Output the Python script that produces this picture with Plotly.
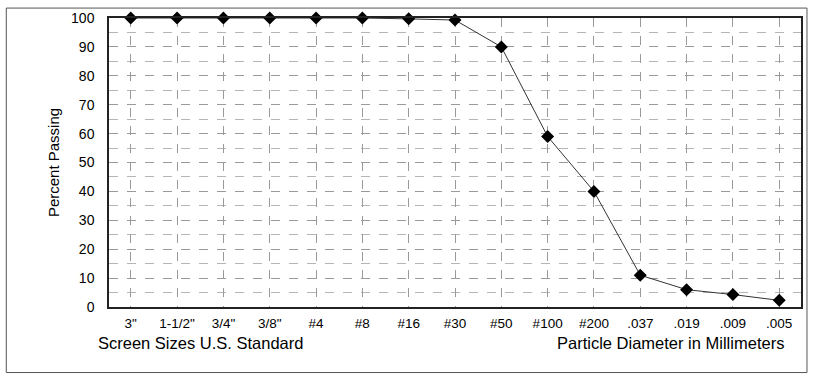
import plotly.graph_objects as go

sieves = ['3"', '1-1/2"', '3/4"', '3/8"', '#4', '#8', '#16', '#30', '#50',
          '#100', '#200', '.037', '.019', '.009', '.005']
percent_passing = [100, 100, 100, 100, 100, 100, 99.7, 99.3, 90, 59, 40, 11, 6, 4.3, 2.3]
y_ticks = list(range(0, 101, 10))

font = "Liberation Sans, Arial, sans-serif"
W, H = 813, 377
L, R, T, B = 109, 10, 16, 70
pw, ph = W - L - R, H - T - B

fig = go.Figure()
fig.add_trace(go.Scatter(
    x=list(range(len(sieves))), y=percent_passing, mode="lines+markers",
    line=dict(color="#333333", width=1),
    marker=dict(symbol="diamond", size=10, color="black"),
    showlegend=False, cliponaxis=False,
))

grid = "#9a9a9a"
fig.update_xaxes(
    range=[-0.47, len(sieves) - 1 + 0.47],
    tickmode="array", tickvals=list(range(len(sieves))), ticktext=sieves,
    showgrid=True, gridcolor=grid, griddash="dash", gridwidth=1,
    showline=True, linecolor="#222222", linewidth=1.5, mirror=True,
    ticks="", zeroline=False, ticklabelstandoff=3,
    tickfont=dict(family=font, size=13.5, color="black"),
)
fig.update_yaxes(
    range=[0, 100], tickvals=y_ticks,
    showgrid=True, gridcolor=grid, griddash="dash", gridwidth=1,
    minor=dict(dtick=5, showgrid=True, gridcolor="#b5b5b5", griddash="dash"),
    showline=True, linecolor="#222222", linewidth=1.5, mirror=True,
    ticks="", zeroline=False, ticklabelstandoff=10,
    tickfont=dict(family=font, size=14, color="black"),
    title=dict(text="Percent Passing", font=dict(family=font, size=15, color="black"), standoff=8),
)

def px_x(p):
    return (p - L) / pw

def px_y(p):
    return (H - B - p) / ph

fig.add_shape(type="rect", xref="paper", yref="paper",
              x0=px_x(6), x1=px_x(809), y0=px_y(373), y1=px_y(6),
              line=dict(color="#555555", width=1), fillcolor="rgba(0,0,0,0)", layer="below")

fig.add_annotation(text="Screen Sizes U.S. Standard", xref="paper", yref="paper",
                   x=px_x(96), y=px_y(343), xanchor="left", yanchor="middle",
                   showarrow=False, font=dict(family=font, size=16.5, color="black"))
fig.add_annotation(text="Particle Diameter in Millimeters", xref="paper", yref="paper",
                   x=px_x(788), y=px_y(343), xanchor="right", yanchor="middle",
                   showarrow=False, font=dict(family=font, size=16.5, color="black"))

fig.update_layout(
    width=W, height=H,
    margin=dict(l=L, r=R, t=T, b=B),
    paper_bgcolor="white", plot_bgcolor="white",
    font=dict(family=font),
)
fig.write_html("out.html")
